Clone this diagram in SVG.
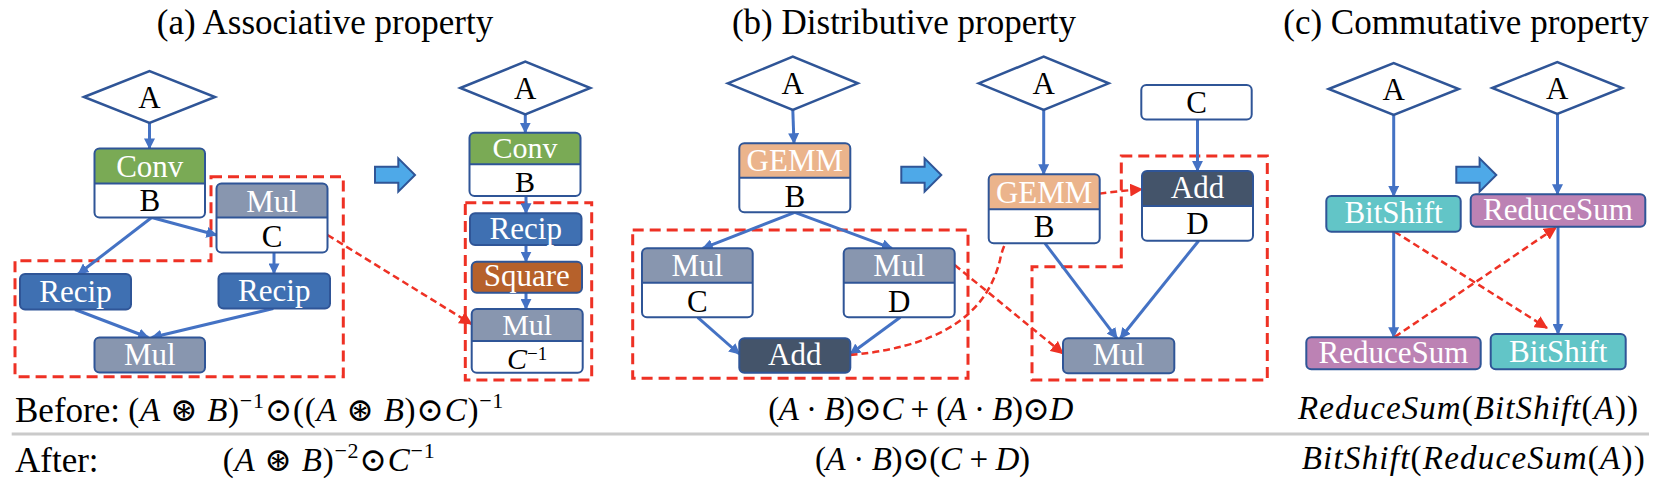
<svg xmlns="http://www.w3.org/2000/svg" width="1664" height="494" viewBox="0 0 1664 494" font-family="'Liberation Serif', 'DejaVu Serif', serif">
<defs>
<style>
.title{font-family:'Liberation Serif',serif;font-size:35px;text-anchor:middle;fill:#000}
.lbl{font-family:'Liberation Serif',serif;font-size:31px;text-anchor:middle}
.sm{font-size:30px}
.w{fill:#fff}
.k{fill:#000}
.box{stroke:#2F5597;stroke-width:2}
.ol{fill:none;stroke:#2F5597;stroke-width:2}
.dv{stroke:#2F5597;stroke-width:2}
.dia{fill:#fff;stroke:#2F5597;stroke-width:2.5}
.conn{stroke:#4472C4;stroke-width:3;fill:none;marker-end:url(#ab)}
.rd{stroke:#EE3124;stroke-width:2.5;stroke-dasharray:7 4;fill:none;marker-end:url(#ar)}
.grp{stroke:#EE3124;stroke-width:3;stroke-dasharray:11 6;fill:none}
.barrow{fill:#4EA9E8;stroke:#2F5597;stroke-width:2}
.math{font-family:'Liberation Serif','DejaVu Serif',serif;font-size:33px;fill:#000}
.i{font-style:italic}
.lab{font-family:'Liberation Serif',serif;font-size:35px;fill:#000}
.conv{fill:#7AAA55}
.mul{fill:#8896AF}
.recip{fill:#3F70B2}
.square{fill:#B6612B}
.gemm{fill:#EBB48C}
.add{fill:#44546A}
.bit{fill:#62C5C7}
.red{fill:#BC82B4}
</style>
<marker id="ab" viewBox="0 0 12 12" refX="11" refY="6" markerWidth="11" markerHeight="11" markerUnits="userSpaceOnUse" orient="auto">
<path d="M0,0 L12,6 L0,12 Z" fill="#4472C4"/>
</marker>
<marker id="ar" viewBox="0 0 12 12" refX="11" refY="6" markerWidth="13" markerHeight="13" markerUnits="userSpaceOnUse" orient="auto">
<path d="M0,0 L12,6 L0,12 Z" fill="#EE3124"/>
</marker>
</defs>
<rect width="1664" height="494" fill="#fff"/>

<g id="titles">
<text class="title" x="325" y="34">(a) Associative property</text>
<text class="title" x="904" y="34">(b) Distributive property</text>
<text class="title" x="1466" y="34">(c) Commutative property</text>
</g>

<g id="groups">
<path class="grp" d="M211,176.7 H343.3 V376.7 H15 V260.7 H211 Z"/>
<rect class="grp" x="465.3" y="202.7" width="126.4" height="177.3"/>
<rect class="grp" x="632.7" y="230" width="335.3" height="148.3"/>
<path class="grp" d="M1121.3,156 H1267.3 V380 H1032 V266.7 H1121.3 Z"/>
</g>

<g id="block-arrows">
<polygon class="barrow" points="375,166.7 398.3,166.7 398.3,158.3 415,175 398.3,191.7 398.3,182.7 375,182.7"/>
<polygon class="barrow" points="901.3,166.7 924.6,166.7 924.6,158.3 941.3,175 924.6,191.7 924.6,182.7 901.3,182.7"/>
<polygon class="barrow" points="1456.3,166.7 1479.6,166.7 1479.6,158.3 1496.3,175 1479.6,191.7 1479.6,182.7 1456.3,182.7"/>
</g>

<g id="connectors">
<line class="conn" x1="149.5" y1="123" x2="149.5" y2="148.5"/>
<line class="conn" x1="151.7" y1="217.5" x2="78.3" y2="274"/>
<line class="conn" x1="151.7" y1="217.5" x2="216.5" y2="235"/>
<line class="conn" x1="274" y1="252.5" x2="274" y2="273.5"/>
<line class="conn" x1="75" y1="309.5" x2="148.3" y2="337.5"/>
<line class="conn" x1="273.3" y1="308.5" x2="151.7" y2="337.5"/>
<line class="conn" x1="525.3" y1="114.3" x2="525.3" y2="132.7"/>
<line class="conn" x1="526" y1="196" x2="526" y2="213.3"/>
<line class="conn" x1="526" y1="245" x2="526" y2="261.7"/>
<line class="conn" x1="526" y1="292.7" x2="526" y2="309"/>
<line class="conn" x1="792.8" y1="110" x2="794" y2="143.3"/>
<line class="conn" x1="794.8" y1="212.3" x2="702.7" y2="248.3"/>
<line class="conn" x1="794.8" y1="212.3" x2="892" y2="248.3"/>
<line class="conn" x1="697.7" y1="317.3" x2="739.3" y2="354"/>
<line class="conn" x1="900.3" y1="317.3" x2="850.3" y2="354"/>
<line class="conn" x1="1043.7" y1="110" x2="1043.7" y2="174.3"/>
<line class="conn" x1="1197.5" y1="119.5" x2="1197.5" y2="171"/>
<line class="conn" x1="1045" y1="243.3" x2="1117" y2="338.3"/>
<line class="conn" x1="1198.7" y1="240.7" x2="1120.3" y2="338.3"/>
<line class="conn" x1="1393.7" y1="115" x2="1393.7" y2="196"/>
<line class="conn" x1="1393.7" y1="231.7" x2="1393.7" y2="337.3"/>
<line class="conn" x1="1557.5" y1="114" x2="1557.5" y2="194.3"/>
<line class="conn" x1="1558" y1="226.7" x2="1558" y2="334"/>
<line class="rd" x1="327.5" y1="235" x2="471.5" y2="324"/>
<line class="rd" x1="954.7" y1="265" x2="1063" y2="353.5"/>
<path class="rd" d="M850.3,355 C960,345 990,300 1000,260 C1010,210 1060,195 1142,189.3"/>
<line class="rd" x1="1394.7" y1="231.7" x2="1547" y2="328"/>
<line class="rd" x1="1394.7" y1="337" x2="1556" y2="227.5"/>
</g>

<g id="a-before-A">
<polygon class="dia" points="84,97 149.5,71 215,97 149.5,123"/>
<text class="lbl k" x="149.5" y="107.5">A</text>
</g>
<g id="a-before-conv">
<rect x="94.5" y="148.5" width="110.5" height="69" rx="5" fill="#fff"/>
<path class="conv" d="M94.5,183.5 V153.5 Q94.5,148.5 99.5,148.5 H200 Q205,148.5 205,153.5 V183.5 Z"/>
<line class="dv" x1="94.5" y1="183.5" x2="205" y2="183.5"/>
<rect class="ol" x="94.5" y="148.5" width="110.5" height="69" rx="5"/>
<text class="lbl w" x="149.75" y="176.5">Conv</text>
<text class="lbl k" x="149.75" y="210.5">B</text>
</g>
<g id="a-before-mulC">
<rect x="216.5" y="183.5" width="111" height="69" rx="5" fill="#fff"/>
<path class="mul" d="M216.5,217.5 V188.5 Q216.5,183.5 221.5,183.5 H322.5 Q327.5,183.5 327.5,188.5 V217.5 Z"/>
<line class="dv" x1="216.5" y1="217.5" x2="327.5" y2="217.5"/>
<rect class="ol" x="216.5" y="183.5" width="111" height="69" rx="5"/>
<text class="lbl w" x="272" y="211.5">Mul</text>
<text class="lbl k" x="272" y="246.5">C</text>
</g>
<g id="a-before-recip1">
<rect class="box recip" x="20" y="274" width="111" height="35.5" rx="5"/>
<text class="lbl w" x="75.5" y="301.5">Recip</text>
</g>
<g id="a-before-recip2">
<rect class="box recip" x="218.5" y="273.5" width="111.5" height="35" rx="5"/>
<text class="lbl w" x="274.25" y="300.5">Recip</text>
</g>
<g id="a-before-mul">
<rect class="box mul" x="94.5" y="337.5" width="110.5" height="35" rx="5"/>
<text class="lbl w" x="149.75" y="365">Mul</text>
</g>

<g id="a-after-A">
<polygon class="dia" points="460.3,88 525.3,61.7 590.3,88 525.3,114.3"/>
<text class="lbl k" x="525.3" y="98.5">A</text>
</g>
<g id="a-after-conv">
<rect x="469.5" y="132.7" width="111" height="63.3" rx="5" fill="#fff"/>
<path class="conv" d="M469.5,164.3 V137.7 Q469.5,132.7 474.5,132.7 H575.5 Q580.5,132.7 580.5,137.7 V164.3 Z"/>
<line class="dv" x1="469.5" y1="164.3" x2="580.5" y2="164.3"/>
<rect class="ol" x="469.5" y="132.7" width="111" height="63.3" rx="5"/>
<text class="lbl sm w" x="525" y="158">Conv</text>
<text class="lbl sm k" x="525" y="191.5">B</text>
</g>
<g id="a-after-recip">
<rect class="box recip" x="470" y="213.3" width="111.5" height="31.7" rx="5"/>
<text class="lbl w" x="525.75" y="239.3">Recip</text>
</g>
<g id="a-after-square">
<rect class="box square" x="471.7" y="261.7" width="110.3" height="31" rx="5"/>
<text class="lbl w" x="526.8" y="285.5">Square</text>
</g>
<g id="a-after-mul">
<rect x="471.7" y="309" width="111" height="63.7" rx="5" fill="#fff"/>
<path class="mul" d="M471.7,341 V314 Q471.7,309 476.7,309 H577.7 Q582.7,309 582.7,314 V341 Z"/>
<line class="dv" x1="471.7" y1="341" x2="582.7" y2="341"/>
<rect class="ol" x="471.7" y="309" width="111" height="63.7" rx="5"/>
<text class="lbl sm w" x="527.2" y="335">Mul</text>
<text class="lbl sm k" x="527.2" y="368.5"><tspan class="i">C</tspan><tspan font-size="19" dy="-9">−1</tspan></text>
</g>

<g id="b-before-A">
<polygon class="dia" points="727.8,83.3 792.8,56.7 857.8,83.3 792.8,110"/>
<text class="lbl k" x="792.8" y="94">A</text>
</g>
<g id="b-before-gemm">
<rect x="739.3" y="143.3" width="111" height="69" rx="5" fill="#fff"/>
<path class="gemm" d="M739.3,177.7 V148.3 Q739.3,143.3 744.3,143.3 H845.3 Q850.3,143.3 850.3,148.3 V177.7 Z"/>
<line class="dv" x1="739.3" y1="177.7" x2="850.3" y2="177.7"/>
<rect class="ol" x="739.3" y="143.3" width="111" height="69" rx="5"/>
<text class="lbl w" x="794.8" y="170.7">GEMM</text>
<text class="lbl k" x="794.8" y="206.7">B</text>
</g>
<g id="b-before-mulC">
<rect x="642" y="248.3" width="110.7" height="69" rx="5" fill="#fff"/>
<path class="mul" d="M642,282.7 V253.3 Q642,248.3 647,248.3 H747.7 Q752.7,248.3 752.7,253.3 V282.7 Z"/>
<line class="dv" x1="642" y1="282.7" x2="752.7" y2="282.7"/>
<rect class="ol" x="642" y="248.3" width="110.7" height="69" rx="5"/>
<text class="lbl w" x="697.3" y="276">Mul</text>
<text class="lbl k" x="697.3" y="311.5">C</text>
</g>
<g id="b-before-mulD">
<rect x="843.7" y="248.3" width="111" height="69" rx="5" fill="#fff"/>
<path class="mul" d="M843.7,282.7 V253.3 Q843.7,248.3 848.7,248.3 H949.7 Q954.7,248.3 954.7,253.3 V282.7 Z"/>
<line class="dv" x1="843.7" y1="282.7" x2="954.7" y2="282.7"/>
<rect class="ol" x="843.7" y="248.3" width="111" height="69" rx="5"/>
<text class="lbl w" x="899.2" y="276">Mul</text>
<text class="lbl k" x="899.2" y="311.5">D</text>
</g>
<g id="b-before-add">
<rect class="box add" x="739.3" y="338.3" width="111" height="34.5" rx="5"/>
<text class="lbl w" x="794.8" y="365">Add</text>
</g>

<g id="b-after-A">
<polygon class="dia" points="978.7,83.3 1043.7,56.7 1108.7,83.3 1043.7,110"/>
<text class="lbl k" x="1043.7" y="94">A</text>
</g>
<g id="b-after-C">
<rect class="box" fill="#fff" x="1141.3" y="85" width="110.4" height="34.5" rx="5"/>
<text class="lbl k" x="1196.5" y="113.3">C</text>
</g>
<g id="b-after-gemm">
<rect x="988.7" y="174.3" width="111" height="69" rx="5" fill="#fff"/>
<path class="gemm" d="M988.7,209.3 V179.3 Q988.7,174.3 993.7,174.3 H1094.7 Q1099.7,174.3 1099.7,179.3 V209.3 Z"/>
<line class="dv" x1="988.7" y1="209.3" x2="1099.7" y2="209.3"/>
<rect class="ol" x="988.7" y="174.3" width="111" height="69" rx="5"/>
<text class="lbl w" x="1044.2" y="202.7">GEMM</text>
<text class="lbl k" x="1044.2" y="237.3">B</text>
</g>
<g id="b-after-add">
<rect x="1142" y="171" width="111" height="69.7" rx="5" fill="#fff"/>
<path class="add" d="M1142,206 V176 Q1142,171 1147,171 H1248 Q1253,171 1253,176 V206 Z"/>
<line class="dv" x1="1142" y1="206" x2="1253" y2="206"/>
<rect class="ol" x="1142" y="171" width="111" height="69.7" rx="5"/>
<text class="lbl w" x="1197.5" y="198.3">Add</text>
<text class="lbl k" x="1197.5" y="234">D</text>
</g>
<g id="b-after-mul">
<rect class="box mul" x="1063" y="338.3" width="111.3" height="35" rx="5"/>
<text class="lbl w" x="1118.7" y="365">Mul</text>
</g>

<g id="c-before-A">
<polygon class="dia" points="1328.7,89 1393.7,63 1458.7,89 1393.7,115"/>
<text class="lbl k" x="1393.7" y="99.5">A</text>
</g>
<g id="c-before-bitshift">
<rect class="box bit" x="1326.3" y="196" width="134.4" height="35.7" rx="5"/>
<text class="lbl w" x="1393.5" y="223.3">BitShift</text>
</g>
<g id="c-before-reducesum">
<rect class="box red" x="1306.3" y="337.3" width="174.4" height="32" rx="5"/>
<text class="lbl w" x="1393.5" y="363.3">ReduceSum</text>
</g>
<g id="c-after-A">
<polygon class="dia" points="1492.3,88 1557.3,62 1622.3,88 1557.3,114"/>
<text class="lbl k" x="1557.3" y="98.5">A</text>
</g>
<g id="c-after-reducesum">
<rect class="box red" x="1470.7" y="194.3" width="174.6" height="32.4" rx="5"/>
<text class="lbl w" x="1558" y="220">ReduceSum</text>
</g>
<g id="c-after-bitshift">
<rect class="box bit" x="1490.7" y="334" width="135" height="35.3" rx="5"/>
<text class="lbl w" x="1558.2" y="361.7">BitShift</text>
</g>

<g id="formulas">
<line x1="11.7" y1="434" x2="1649" y2="434" stroke="#CACACA" stroke-width="3"/>
<text class="lab" x="15" y="421.7">Before:</text>
<text class="lab" x="15" y="471.7">After:</text>
<text class="math" x="128.3" y="421" textLength="375" lengthAdjust="spacing">(<tspan class="i">A</tspan> ⊛ <tspan class="i">B</tspan>)<tspan font-size="22" dy="-13">−1</tspan><tspan dy="13">⊙((</tspan><tspan class="i">A</tspan> ⊛ <tspan class="i">B</tspan>)⊙<tspan class="i">C</tspan>)<tspan font-size="22" dy="-13">−1</tspan></text>
<text class="math" x="222.7" y="471" textLength="212" lengthAdjust="spacing">(<tspan class="i">A</tspan> ⊛ <tspan class="i">B</tspan>)<tspan font-size="22" dy="-13">−2</tspan><tspan dy="13">⊙</tspan><tspan class="i">C</tspan><tspan font-size="22" dy="-13">−1</tspan></text>
<text class="math" x="768.3" y="420" textLength="305" lengthAdjust="spacing">(<tspan class="i">A</tspan> · <tspan class="i">B</tspan>)⊙<tspan class="i">C</tspan> + (<tspan class="i">A</tspan> · <tspan class="i">B</tspan>)⊙<tspan class="i">D</tspan></text>
<text class="math" x="815" y="470" textLength="215" lengthAdjust="spacing">(<tspan class="i">A</tspan> · <tspan class="i">B</tspan>)⊙(<tspan class="i">C</tspan> + <tspan class="i">D</tspan>)</text>
<text class="math" x="1298" y="419" textLength="340" lengthAdjust="spacing"><tspan class="i">ReduceSum</tspan>(<tspan class="i">BitShift</tspan>(<tspan class="i">A</tspan>))</text>
<text class="math" x="1301.7" y="469" textLength="343" lengthAdjust="spacing"><tspan class="i">BitShift</tspan>(<tspan class="i">ReduceSum</tspan>(<tspan class="i">A</tspan>))</text>
</g>
</svg>
